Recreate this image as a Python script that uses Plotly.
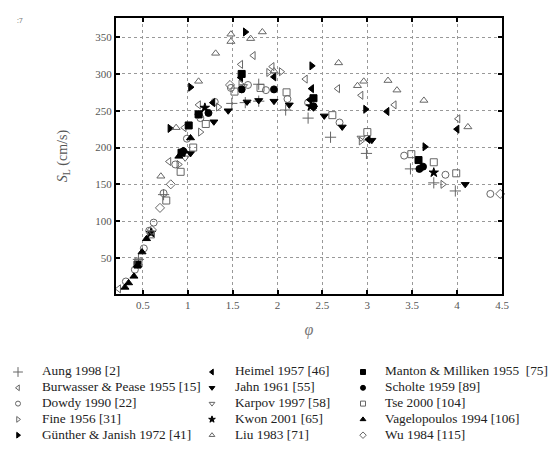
import plotly.graph_objects as go

# ---- data (phi, S_L in cm/s) ----
aung_phi = [0.45, 0.73, 1.49, 1.64, 1.79, 1.79, 2.09, 2.34, 2.59, 2.99, 3.48, 3.74, 3.98]
aung_sl = [48, 136, 260, 261, 286, 263, 251, 240, 214, 192, 171, 152, 141]

burw_phi = [0.23, 0.79, 0.96, 1.12, 1.59, 1.73, 1.94, 2.31, 2.67, 2.93, 3.30, 4.01]
burw_sl = [8, 181, 227, 258, 313, 325, 310, 293, 280, 271, 258, 239]

dowdy_phi = [0.31, 0.41, 0.51, 0.57, 0.62, 0.73, 0.86, 0.99, 1.14, 1.30, 1.48, 1.67, 1.87, 2.11, 2.34, 2.69, 3.41, 3.87, 4.37]
dowdy_sl = [18, 34, 63, 87, 98, 138, 177, 212, 240, 262, 281, 285, 278, 266, 261, 234, 189, 163, 137]

fine_phi = [0.90, 1.14, 1.34, 1.59, 1.90, 2.04, 2.93, 3.84]
fine_sl = [177, 221, 255, 286, 302, 303, 209, 150]

gunther_phi = [0.80, 1.03, 1.64, 2.38, 2.98, 3.64]
gunther_sl = [226, 282, 357, 311, 252, 201]

heimel_phi = [1.28, 1.59, 1.96, 2.36, 2.38, 3.01, 3.22, 4.00]
heimel_sl = [261, 295, 296, 265, 280, 211, 249, 225]

jahn_phi = [1.03, 1.29, 1.45, 1.66, 1.79, 1.96, 2.13, 2.40, 2.52, 2.72, 3.05, 4.09]
jahn_sl = [192, 235, 250, 262, 264, 263, 258, 254, 243, 228, 210, 150]

karpov_phi = [0.97, 1.62, 2.93]
karpov_sl = [186, 283, 213]

kwon_phi = [0.59, 1.19, 2.37, 3.74]
kwon_sl = [84, 254, 256, 166]

liu_phi = [0.70, 0.87, 1.12, 1.31, 1.48, 1.48, 1.70, 1.83, 1.96, 2.68, 2.89, 2.96, 3.23, 3.33, 3.63, 4.12]
liu_sl = [161, 227, 290, 328, 354, 344, 348, 357, 304, 315, 284, 290, 291, 278, 264, 228]

manton_phi = [0.44, 0.93, 1.01, 1.12, 1.60, 2.40, 3.57]
manton_sl = [41, 193, 230, 245, 300, 267, 183]

scholte_phi = [0.95, 1.12, 1.23, 1.60, 1.96, 2.40, 3.58, 3.62]
scholte_sl = [195, 245, 247, 279, 279, 256, 171, 174]

tse_phi = [0.45, 0.59, 0.76, 0.92, 1.06, 1.20, 1.52, 1.81, 2.10, 2.61, 3.00, 3.49, 3.74, 3.99]
tse_sl = [45, 82, 128, 167, 200, 232, 276, 281, 275, 244, 221, 191, 180, 165]

vagel_phi = [0.30, 0.34, 0.40, 0.44, 0.49, 0.54, 0.90, 0.95, 1.03]
vagel_sl = [10, 16, 25, 40, 58, 76, 188, 196, 213]

wu_phi = [0.60, 0.69, 0.81, 1.47, 4.48]
wu_sl = [88, 118, 150, 285, 137]

labels = [
    "Aung 1998 [2]", "Burwasser &amp; Pease 1955 [15]", "Dowdy 1990 [22]", "Fine 1956 [31]",
    "Günther &amp; Janish 1972 [41]", "Heimel 1957 [46]", "Jahn 1961 [55]", "Karpov 1997 [58]",
    "Kwon 2001 [65]", "Liu 1983 [71]", "Manton &amp; Milliken 1955  [75]", "Scholte 1959 [89]",
    "Tse 2000 [104]", "Vagelopoulos 1994 [106]", "Wu 1984 [115]",
]
xs = [aung_phi, burw_phi, dowdy_phi, fine_phi, gunther_phi, heimel_phi, jahn_phi, karpov_phi,
      kwon_phi, liu_phi, manton_phi, scholte_phi, tse_phi, vagel_phi, wu_phi]
ys = [aung_sl, burw_sl, dowdy_sl, fine_sl, gunther_sl, heimel_sl, jahn_sl, karpov_sl,
      kwon_sl, liu_sl, manton_sl, scholte_sl, tse_sl, vagel_sl, wu_sl]
symbols = ["cross-thin-open", "triangle-left-open", "circle-open", "triangle-right-open",
           "triangle-right", "triangle-left", "triangle-down", "triangle-down-open",
           "star", "triangle-up-open", "square", "circle", "square-open", "triangle-up",
           "diamond-open"]

x_ticks = [0.5, 1, 1.5, 2, 2.5, 3, 3.5, 4, 4.5]
x_ticklabels = ["0.5", "1", "1.5", "2", "2.5", "3", "3.5", "4", "4.5"]
y_ticks = [50, 100, 150, 200, 250, 300, 350]

# ---- layout geometry (pixels) ----
W, H = 549, 460
PL, PR, PT, PB = 116, 502, 18, 294          # plot frame edges in the page
# legend key grid (pixel positions in the page)
key_col_x = [18, 212, 363]
key_text_x = [42, 235, 385]
key_row0_y = 372
key_row_dy = 15.8

fig = go.Figure()
for lab, x, y, sym in zip(labels, xs, ys, symbols):
    is_open = sym.endswith("open")
    col = "#666666" if is_open else "#000000"
    fig.add_trace(go.Scatter(
        x=x, y=y, mode="markers", name=lab.replace("&amp;", "&"), showlegend=False,
        marker=dict(symbol=sym, size=8 if sym == "cross-thin-open" else 7,
                    color=col, line=dict(color=col, width=1)),
        cliponaxis=False,
    ))

# legend key drawn on an invisible full-page axis measured in page pixels
for i, (lab, sym) in enumerate(zip(labels, symbols)):
    c, r = divmod(i, 5)
    is_open = sym.endswith("open")
    col = "#666666" if is_open else "#000000"
    ky = key_row0_y + r * key_row_dy
    fig.add_trace(go.Scatter(
        x=[key_col_x[c]], y=[ky], xaxis="x2", yaxis="y2", mode="markers",
        showlegend=False, hoverinfo="skip", cliponaxis=False,
        marker=dict(symbol=sym, size=7 if sym == "cross-thin-open" else 5,
                    color=col, line=dict(color=col, width=1)),
    ))
    fig.add_trace(go.Scatter(
        x=[key_text_x[c]], y=[ky], xaxis="x2", yaxis="y2", mode="text",
        text=[lab], textposition="middle right", showlegend=False, hoverinfo="skip",
        cliponaxis=False,
        textfont=dict(family="Liberation Serif", size=13.3, color="#222222"),
    ))

axis_common = dict(showline=True, linewidth=2, linecolor="black", mirror="ticks",
                   ticks="inside", ticklen=4, tickwidth=2, tickcolor="black",
                   showgrid=True, gridcolor="#999999", griddash="dot", gridwidth=1,
                   zeroline=False, automargin=False,
                   tickfont=dict(family="Liberation Serif", size=11, color="#555555"))

fig.update_layout(
    width=W, height=H,
    margin=dict(l=0, r=0, t=0, b=0, autoexpand=False),
    plot_bgcolor="rgba(0,0,0,0)", paper_bgcolor="white",
    showlegend=False,
    xaxis=dict(range=[0.2, 4.5], tickvals=x_ticks, ticktext=x_ticklabels,
               domain=[PL / W, PR / W], anchor="y",
               title=dict(text="<i>φ</i>", font=dict(family="Liberation Serif", size=16, color="#777777"),
                          standoff=14),
               **axis_common),
    yaxis=dict(range=[1, 376], tickvals=y_ticks,
               domain=[1 - PB / H, 1 - PT / H], anchor="x",
               title=dict(text="<i>S</i><sub>L</sub> (cm/s)",
                          font=dict(family="Liberation Serif", size=14, color="#555555"),
                          standoff=24),
               **axis_common),
    xaxis2=dict(range=[0, W], domain=[0, 1], anchor="y2",
                visible=False, fixedrange=True),
    yaxis2=dict(range=[H, 0], domain=[0, 1], anchor="x2",
                visible=False, fixedrange=True),
    annotations=[dict(text=":7", x=15 / W, y=1 - 14 / H,
                      xref="paper", yref="paper", showarrow=False,
                      font=dict(size=7, color="#777777"))],
)

fig.write_html("out.html")
